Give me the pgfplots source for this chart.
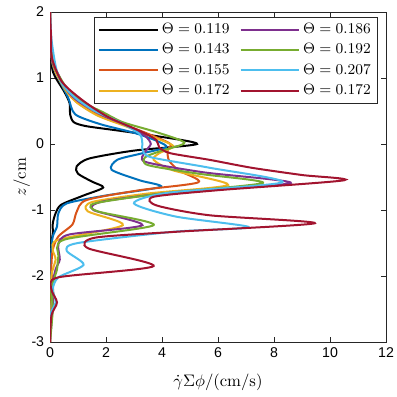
\documentclass[border=0pt]{standalone}
\usepackage{fontspec}
\usepackage{pgfplots}
\pgfplotsset{compat=1.18}
\newfontfamily\tickfont{Liberation Sans}
\definecolor{m1}{rgb}{0,0,0}
\definecolor{m2}{rgb}{0,0.447,0.741}
\definecolor{m3}{rgb}{0.850,0.325,0.098}
\definecolor{m4}{rgb}{0.929,0.694,0.125}
\definecolor{m5}{rgb}{0.494,0.184,0.556}
\definecolor{m6}{rgb}{0.466,0.674,0.188}
\definecolor{m7}{rgb}{0.301,0.745,0.933}
\definecolor{m8}{rgb}{0.635,0.078,0.184}
\begin{document}
\begin{tikzpicture}
\begin{axis}[
  scale only axis, width=201.6pt, height=198pt,
  xmin=0, xmax=12, ymin=-3, ymax=2,
  xtick={0,2,4,6,8,10,12}, xticklabels={0,2,4,6,8,10,12},
  ytick={-3,-2,-1,0,1,2}, yticklabels={-3,-2,-1,0,1,2},
  ticklabel style={font=\tickfont\fontsize{8.5}{10}\selectfont},
  tick align=inside, major tick length=3pt,
  axis line style={black!85, line width=0.5pt},
  every tick/.style={black!85, line width=0.5pt},
  xlabel={$\dot{\gamma}\Sigma\phi/(\mathrm{cm/s})$},
  ylabel={$z/\mathrm{cm}$},
  label style={font=\fontsize{10.5}{12}\selectfont},
  every axis x label/.style={at={(axis description cs:0.5,-0.121)}, anchor=center},
  every axis y label/.style={at={(axis description cs:-0.084,0.5)}, rotate=90, anchor=center},
  legend columns=4, transpose legend,
  legend cell align=left,
  legend style={at={(0.976,0.985)}, anchor=north east, draw=black!85, line width=0.5pt, fill=white,
    font=\fontsize{9}{10}\selectfont, inner xsep=2pt, inner ysep=1.5pt, row sep=0.6pt,
    /tikz/every even column/.append style={column sep=4pt}},
  legend image code/.code={\draw[#1, line width=1.2pt] (0pt,0pt) -- (35pt,0pt);},
  every axis plot/.append style={line width=1.2pt, smooth, tension=0.45},
]
\addplot[m1] coordinates {(0,2) (0.02,1.6) (0.07,1.17) (0.18,1.02) (0.5,0.8) (0.7,0.62) (0.72,0.45) (0.85,0.33) (1.3,0.27) (2.5,0.2) (3.8,0.12) (5.25,0.0) (3.0,-0.1) (1.4,-0.22) (0.95,-0.34) (1.0,-0.45) (1.5,-0.57) (1.9,-0.66) (1.2,-0.78) (0.4,-0.92) (0.2,-1.05) (0.1,-1.2) (0.1,-1.35) (0.05,-1.5) (0.02,-1.8) (0.02,-2.2) (0,-3)};
\addlegendentry{$\Theta = 0.119$}
\addplot[m2] coordinates {(0,2) (0.02,1.6) (0.1,1.2) (0.3,1.0) (0.65,0.7) (0.9,0.45) (1.8,0.3) (3.0,0.17) (3.8,0.05) (4.15,-0.05) (3.2,-0.15) (2.4,-0.24) (2.2,-0.39) (3.2,-0.55) (3.95,-0.65) (2.0,-0.78) (0.6,-0.9) (0.3,-1.05) (0.25,-1.25) (0.1,-1.4) (0.05,-1.6) (0.02,-2.0) (0.08,-2.3) (0,-2.6) (0,-3)};
\addlegendentry{$\Theta = 0.143$}
\addplot[m3] coordinates {(0,2) (0.02,1.6) (0.08,1.25) (0.25,1.05) (0.6,0.8) (1.0,0.62) (1.8,0.42) (2.8,0.27) (3.7,0.12) (4.3,0.0) (4.2,-0.1) (4.25,-0.25) (4.6,-0.4) (5.3,-0.58) (3.2,-0.7) (1.3,-0.85) (0.95,-1.03) (0.8,-1.22) (0.3,-1.4) (0.1,-1.6) (0.05,-1.9) (0.12,-2.3) (0.02,-2.6) (0,-3)};
\addlegendentry{$\Theta = 0.155$}
\addplot[m4] coordinates {(0,2) (0.02,1.6) (0.08,1.25) (0.25,1.05) (0.55,0.82) (0.95,0.63) (1.7,0.43) (2.7,0.27) (3.6,0.12) (4.4,-0.03) (3.9,-0.14) (3.7,-0.24) (4.4,-0.4) (6.36,-0.62) (3.5,-0.75) (1.5,-0.88) (1.35,-1.02) (2.6,-1.23) (0.3,-1.45) (0.1,-1.6) (0.2,-1.75) (0.05,-2.0) (0.05,-2.5) (0,-3)};
\addlegendentry{$\Theta = 0.172$}
\addplot[m5] coordinates {(0,2) (0.02,1.6) (0.08,1.25) (0.3,1.05) (0.6,0.82) (1.0,0.65) (1.9,0.43) (2.8,0.27) (3.4,0.12) (3.6,0.0) (3.4,-0.12) (3.4,-0.27) (5.5,-0.43) (8.6,-0.59) (4.5,-0.73) (1.9,-0.87) (1.55,-1.0) (3.3,-1.23) (0.7,-1.37) (0.3,-1.52) (0.35,-1.75) (0.2,-1.9) (0.05,-2.2) (0.1,-2.4) (0,-3)};
\addlegendentry{$\Theta = 0.186$}
\addplot[m6] coordinates {(0,2) (0.02,1.6) (0.1,1.25) (0.3,1.05) (0.6,0.85) (1.1,0.65) (1.9,0.48) (2.6,0.33) (3.8,0.18) (4.8,0.02) (4.0,-0.1) (3.4,-0.2) (3.5,-0.32) (5.3,-0.45) (7.6,-0.59) (4.0,-0.75) (1.6,-0.9) (1.7,-1.02) (3.7,-1.23) (0.5,-1.45) (0.3,-1.7) (0.25,-1.9) (0.05,-2.2) (0.1,-2.5) (0,-3)};
\addlegendentry{$\Theta = 0.192$}
\addplot[m7] coordinates {(0,2) (0.05,1.6) (0.15,1.3) (0.25,1.1) (0.45,0.9) (0.9,0.7) (1.6,0.5) (2.5,0.33) (3.2,0.15) (3.3,0.0) (3.3,-0.08) (3.6,-0.2) (5.7,-0.36) (8.3,-0.58) (4.2,-0.74) (3.0,-0.9) (4.5,-1.1) (7.1,-1.26) (4.4,-1.33) (1.0,-1.5) (0.6,-1.62) (1.2,-1.83) (0.3,-2.02) (0.1,-2.2) (0.2,-2.4) (0,-2.6) (0,-3)};
\addlegendentry{$\Theta = 0.207$}
\addplot[m8] coordinates {(0,2) (0.04,1.6) (0.07,1.3) (0.43,0.94) (1.14,0.67) (2.07,0.41) (3.3,0.18) (3.8,0.06) (3.9,-0.05) (4.3,-0.14) (5.7,-0.24) (7.2,-0.36) (9.0,-0.47) (10.5,-0.55) (6,-0.7) (3.7,-0.8) (3.8,-0.93) (5.7,-1.08) (9.46,-1.2) (4.5,-1.33) (1.6,-1.42) (1.36,-1.58) (3.7,-1.85) (0.3,-2.02) (0.05,-2.2) (0.25,-2.4) (0.05,-2.6) (0,-3)};
\addlegendentry{$\Theta = 0.172$}
\coordinate (SW) at (rel axis cs:0,0);
\coordinate (NE) at (rel axis cs:1,1);
\end{axis}
\pgfresetboundingbox
\path[use as bounding box] ([xshift=-30pt,yshift=-33pt]SW) rectangle ([xshift=6.6pt,yshift=7.2pt]NE);
\end{tikzpicture}
\end{document}
